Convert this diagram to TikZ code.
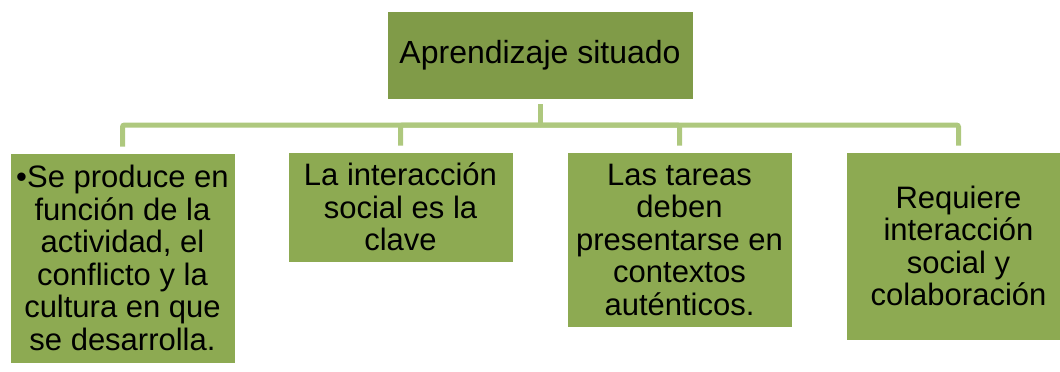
\documentclass[tikz,border=0pt]{standalone}
\usepackage{fontspec}
\setmainfont{Liberation Sans}
\usepackage{xcolor}
\usepackage{tikz}
\usetikzlibrary{
	positioning,    % posizionamento dei nodi
	calc            % coordinate calcolate
}
\definecolor{verdescuro}{RGB}{128,155,72}
\definecolor{verdemedio}{RGB}{141,170,82}
\definecolor{verdechiaro}{RGB}{174,200,126}

\begin{document}
\begin{tikzpicture}[x=1pt, y=-1pt,
		radice/.style={fill=verdescuro, draw=white, line width=0.6pt, inner sep=0pt,
			minimum width=306pt, minimum height=88pt, align=center,
			font=\fontsize{32}{34}\selectfont},
		foglia/.style={fill=verdemedio, draw=white, line width=0.6pt, inner sep=0pt,
			minimum width=225pt, align=center,
			font=\fontsize{31}{32.5}\selectfont},
		ramo/.style={draw=verdechiaro, line width=5pt, rounded corners=2pt,
			shorten >=6pt}]
	% --- Area del disegno ---
	\useasboundingbox (0,0) rectangle (1060,372);
	
	% --- Nodo principale ---
	\node[radice] (aprendizaje) at (540,55) {Aprendizaje situado};
	
	% --- Nodi figli ---
	\node[foglia, minimum height=210pt] (actividad) at (122.5,258)
		{•Se produce en\\función de la\\actividad, el\\conflicto y la\\cultura en que\\se desarrolla.};
	\node[foglia, minimum height=110pt] (interaccion) at (400.5,207)
		{La interacción\\social es la\\clave};
	\node[foglia, minimum height=175pt] (tareas) at (679.5,239.5)
		{Las tareas\\deben\\presentarse en\\contextos\\auténticos.};
	\node[foglia, minimum height=188pt] (colaboracion) at (958.5,246)
		{Requiere\\interacción\\social y\\colaboración};
	
	% --- Connettori ---
	\coordinate (bus) at (540,125);
	\draw[ramo, shorten <=5pt, shorten >=0pt] (aprendizaje.south) -- (bus);
	\foreach \figlio in {actividad, interaccion, tareas, colaboracion}
		\draw[ramo] (bus) -| (\figlio.north);
\end{tikzpicture}
\end{document}
